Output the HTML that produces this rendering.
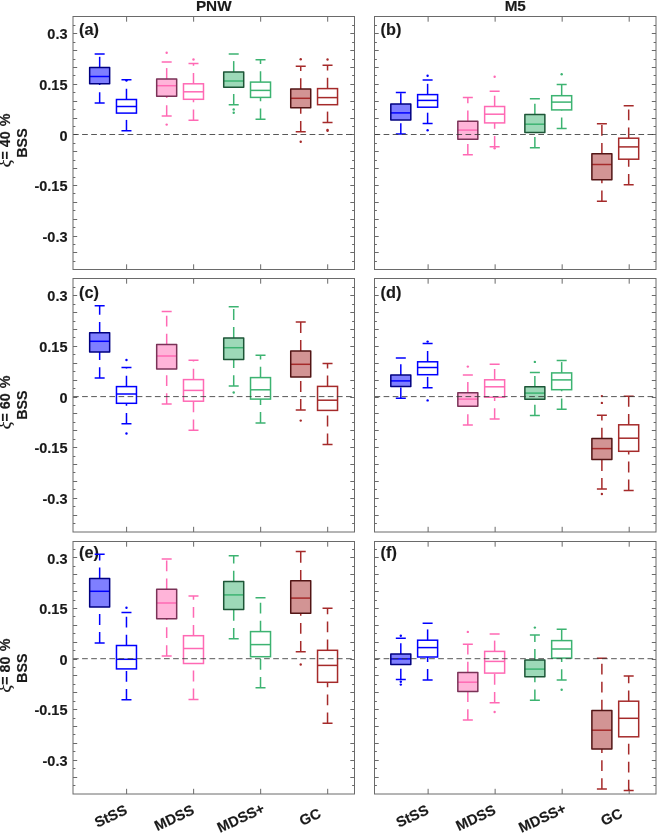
<!DOCTYPE html>
<html lang="en"><head><meta charset="utf-8"><title>BSS box plots</title>
<style>html,body{margin:0;padding:0;background:#fff}svg{display:block}</style></head>
<body>
<svg width="659" height="833" viewBox="0 0 659 833" font-family="'Liberation Sans', sans-serif" font-weight="bold" fill="#1a1a1a">
<style>text{stroke:#1a1a1a;stroke-width:.15px;stroke-linejoin:round}</style>
<rect width="659" height="833" fill="#fff"/>
<g>
<path d="M73 261.5h2.4M354.5 261.5h-2.4M73 252.5h4.2M354.5 252.5h-4.2M73 244.5h2.4M354.5 244.5h-2.4M73 236.5h4.2M354.5 236.5h-4.2M73 227.5h2.4M354.5 227.5h-2.4M73 219.5h4.2M354.5 219.5h-4.2M73 210.5h2.4M354.5 210.5h-2.4M73 202.5h4.2M354.5 202.5h-4.2M73 193.5h2.4M354.5 193.5h-2.4M73 185.5h4.2M354.5 185.5h-4.2M73 177.5h2.4M354.5 177.5h-2.4M73 168.5h4.2M354.5 168.5h-4.2M73 160.5h2.4M354.5 160.5h-2.4M73 151.5h4.2M354.5 151.5h-4.2M73 143.5h2.4M354.5 143.5h-2.4M73 134.5h4.2M354.5 134.5h-4.2M73 126.5h2.4M354.5 126.5h-2.4M73 118.5h4.2M354.5 118.5h-4.2M73 109.5h2.4M354.5 109.5h-2.4M73 101.5h4.2M354.5 101.5h-4.2M73 92.5h2.4M354.5 92.5h-2.4M73 84.5h4.2M354.5 84.5h-4.2M73 75.5h2.4M354.5 75.5h-2.4M73 67.5h4.2M354.5 67.5h-4.2M73 59.5h2.4M354.5 59.5h-2.4M73 50.5h4.2M354.5 50.5h-4.2M73 42.5h2.4M354.5 42.5h-2.4M73 33.5h4.2M354.5 33.5h-4.2M73 25.5h2.4M354.5 25.5h-2.4M126.62 16.83V21.7M126.62 269.5v-5.2M193.64 16.83V21.7M193.64 269.5v-5.2M260.67 16.83V21.7M260.67 269.5v-5.2M327.69 16.83V21.7M327.69 269.5v-5.2" stroke="#6a6a6a" stroke-width="1" fill="none"/>
<text x="79.1" y="34.5" font-size="16.3">(a)</text>
<g stroke="#0000FF" stroke-width="1.5" fill="none"><path d="M99.66 67.6V54" stroke-dasharray="10.8 7.2"/><path d="M99.66 103.1V83.8" stroke-dasharray="10.8 7.2"/><path d="M94.66 54h10.0M94.66 103.1h10.0"/><path d="M89.66 76.5h20.0"/><rect x="89.66" y="67.6" width="20.0" height="16.2" fill="#0000FF" fill-opacity="0.5" stroke="#000080" stroke-linejoin="round"/></g>
<g stroke="#0000FF" stroke-width="1.5" fill="none"><path d="M126.47 99.5V79.7" stroke-dasharray="10.8 7.2"/><path d="M126.47 130.7V113.1" stroke-dasharray="10.8 7.2"/><path d="M121.47 79.7h10.0M121.47 130.7h10.0"/><rect x="116.47" y="99.5" width="20.0" height="13.6"/><path d="M116.47 106.5h20.0"/></g><circle cx="126.47" cy="80.3" r="1.2" fill="#0000FF"/>
<g stroke="#FF69B4" stroke-width="1.5" fill="none"><path d="M166.68 78.9V61.9" stroke-dasharray="10.8 7.2"/><path d="M166.68 116.1V96.3" stroke-dasharray="10.8 7.2"/><path d="M161.68 61.9h10.0M161.68 116.1h10.0"/><path d="M156.68 85.7h20.0"/><rect x="156.68" y="78.9" width="20.0" height="17.4" fill="#FF69B4" fill-opacity="0.5" stroke="#7A3257" stroke-linejoin="round"/></g><circle cx="166.68" cy="52.7" r="1.2" fill="#FF69B4"/><circle cx="166.68" cy="124.6" r="1.2" fill="#FF69B4"/>
<g stroke="#FF69B4" stroke-width="1.5" fill="none"><path d="M193.49 83.8V63.4" stroke-dasharray="10.8 7.2"/><path d="M193.49 120.3V99.3" stroke-dasharray="10.8 7.2"/><path d="M188.49 63.4h10.0M188.49 120.3h10.0"/><rect x="183.49" y="83.8" width="20.0" height="15.5"/><path d="M183.49 91.8h20.0"/></g><circle cx="193.49" cy="59.5" r="1.2" fill="#FF69B4"/>
<g stroke="#3CB371" stroke-width="1.5" fill="none"><path d="M233.71 71.9V54" stroke-dasharray="10.8 7.2"/><path d="M233.71 104.8V87.2" stroke-dasharray="10.8 7.2"/><path d="M228.71 54h10.0M228.71 104.8h10.0"/><path d="M223.71 81h20.0"/><rect x="223.71" y="71.9" width="20.0" height="15.3" fill="#3CB371" fill-opacity="0.5" stroke="#1D5637" stroke-linejoin="round"/></g><circle cx="233.71" cy="109.5" r="1.2" fill="#3CB371"/><circle cx="233.71" cy="112.7" r="1.2" fill="#3CB371"/>
<g stroke="#3CB371" stroke-width="1.5" fill="none"><path d="M260.52 82.1V59.8" stroke-dasharray="10.8 7.2"/><path d="M260.52 119.2V97.4" stroke-dasharray="10.8 7.2"/><path d="M255.52 59.8h10.0M255.52 119.2h10.0"/><rect x="250.52" y="82.1" width="20.0" height="15.3"/><path d="M250.52 90.4h20.0"/></g>
<g stroke="#A52A2A" stroke-width="1.5" fill="none"><path d="M300.73 89V66.3" stroke-dasharray="10.8 7.2"/><path d="M300.73 131.8V107.8" stroke-dasharray="10.8 7.2"/><path d="M295.73 66.3h10.0M295.73 131.8h10.0"/><path d="M290.73 98.3h20.0"/><rect x="290.73" y="89" width="20.0" height="18.8" fill="#A52A2A" fill-opacity="0.5" stroke="#521515" stroke-linejoin="round"/></g><circle cx="300.73" cy="59.3" r="1.2" fill="#A52A2A"/><circle cx="300.73" cy="141.8" r="1.2" fill="#A52A2A"/>
<g stroke="#A52A2A" stroke-width="1.5" fill="none"><path d="M327.54 88.6V65.3" stroke-dasharray="10.8 7.2"/><path d="M327.54 122.4V104.7" stroke-dasharray="10.8 7.2"/><path d="M322.54 65.3h10.0M322.54 122.4h10.0"/><rect x="317.54" y="88.6" width="20.0" height="16.1"/><path d="M317.54 97.6h20.0"/></g><circle cx="327.54" cy="59.5" r="1.2" fill="#A52A2A"/><circle cx="327.54" cy="130" r="1.2" fill="#A52A2A"/><circle cx="327.54" cy="130.8" r="1.2" fill="#A52A2A"/>
<line x1="73" y1="134.5" x2="354.5" y2="134.5" stroke="#3a3a3a" stroke-width="0.85" stroke-dasharray="5.7 3.4"/>
<rect x="73" y="16.5" width="281.5" height="253" fill="none" stroke="#6a6a6a" stroke-width="1"/>
<text x="67.5" y="39.3" font-size="14.5" text-anchor="end">0.3</text>
<text x="67.5" y="89.9" font-size="14.5" text-anchor="end">0.15</text>
<text x="67.5" y="140.5" font-size="14.5" text-anchor="end">0</text>
<text x="67.5" y="191.1" font-size="14.5" text-anchor="end">-0.15</text>
<text x="67.5" y="241.7" font-size="14.5" text-anchor="end">-0.3</text>
</g>
<g>
<path d="M374.5 261.5h2.4M656 261.5h-2.4M374.5 252.5h4.2M656 252.5h-4.2M374.5 244.5h2.4M656 244.5h-2.4M374.5 236.5h4.2M656 236.5h-4.2M374.5 227.5h2.4M656 227.5h-2.4M374.5 219.5h4.2M656 219.5h-4.2M374.5 210.5h2.4M656 210.5h-2.4M374.5 202.5h4.2M656 202.5h-4.2M374.5 193.5h2.4M656 193.5h-2.4M374.5 185.5h4.2M656 185.5h-4.2M374.5 177.5h2.4M656 177.5h-2.4M374.5 168.5h4.2M656 168.5h-4.2M374.5 160.5h2.4M656 160.5h-2.4M374.5 151.5h4.2M656 151.5h-4.2M374.5 143.5h2.4M656 143.5h-2.4M374.5 134.5h4.2M656 134.5h-4.2M374.5 126.5h2.4M656 126.5h-2.4M374.5 118.5h4.2M656 118.5h-4.2M374.5 109.5h2.4M656 109.5h-2.4M374.5 101.5h4.2M656 101.5h-4.2M374.5 92.5h2.4M656 92.5h-2.4M374.5 84.5h4.2M656 84.5h-4.2M374.5 75.5h2.4M656 75.5h-2.4M374.5 67.5h4.2M656 67.5h-4.2M374.5 59.5h2.4M656 59.5h-2.4M374.5 50.5h4.2M656 50.5h-4.2M374.5 42.5h2.4M656 42.5h-2.4M374.5 33.5h4.2M656 33.5h-4.2M374.5 25.5h2.4M656 25.5h-2.4M428.12 16.83V21.7M428.12 269.5v-5.2M495.14 16.83V21.7M495.14 269.5v-5.2M562.17 16.83V21.7M562.17 269.5v-5.2M629.19 16.83V21.7M629.19 269.5v-5.2" stroke="#6a6a6a" stroke-width="1" fill="none"/>
<text x="380.6" y="34.5" font-size="16.3">(b)</text>
<g stroke="#0000FF" stroke-width="1.5" fill="none"><path d="M400.81 104V92.5" stroke-dasharray="10.8 7.2"/><path d="M400.81 134.1V119.9" stroke-dasharray="10.8 7.2"/><path d="M395.81 92.5h10.0M395.81 134.1h10.0"/><path d="M390.81 112.9h20.0"/><rect x="390.81" y="104" width="20.0" height="15.9" fill="#0000FF" fill-opacity="0.5" stroke="#000080" stroke-linejoin="round"/></g>
<g stroke="#0000FF" stroke-width="1.5" fill="none"><path d="M427.62 94.6V80" stroke-dasharray="10.8 7.2"/><path d="M427.62 123.5V107.2" stroke-dasharray="10.8 7.2"/><path d="M422.62 80h10.0M422.62 123.5h10.0"/><rect x="417.62" y="94.6" width="20.0" height="12.6"/><path d="M417.62 100.4h20.0"/></g><circle cx="427.62" cy="75.7" r="1.2" fill="#0000FF"/><circle cx="427.62" cy="130.3" r="1.2" fill="#0000FF"/>
<g stroke="#FF69B4" stroke-width="1.5" fill="none"><path d="M467.83 121.2V97.6" stroke-dasharray="10.8 7.2"/><path d="M467.83 154.8V139.2" stroke-dasharray="10.8 7.2"/><path d="M462.83 97.6h10.0M462.83 154.8h10.0"/><path d="M457.83 130.1h20.0"/><rect x="457.83" y="121.2" width="20.0" height="18" fill="#FF69B4" fill-opacity="0.5" stroke="#7A3257" stroke-linejoin="round"/></g>
<g stroke="#FF69B4" stroke-width="1.5" fill="none"><path d="M494.64 106.5V91.2" stroke-dasharray="10.8 7.2"/><path d="M494.64 146.7V122.9" stroke-dasharray="10.8 7.2"/><path d="M489.64 91.2h10.0M489.64 146.7h10.0"/><rect x="484.64" y="106.5" width="20.0" height="16.4"/><path d="M484.64 114.2h20.0"/></g><circle cx="494.64" cy="76.8" r="1.2" fill="#FF69B4"/><circle cx="494.64" cy="148.2" r="1.2" fill="#FF69B4"/>
<g stroke="#3CB371" stroke-width="1.5" fill="none"><path d="M534.86 114.6V98.7" stroke-dasharray="10.8 7.2"/><path d="M534.86 147.7V132.4" stroke-dasharray="10.8 7.2"/><path d="M529.86 98.7h10.0M529.86 147.7h10.0"/><path d="M524.86 124.2h20.0"/><rect x="524.86" y="114.6" width="20.0" height="17.8" fill="#3CB371" fill-opacity="0.5" stroke="#1D5637" stroke-linejoin="round"/></g>
<g stroke="#3CB371" stroke-width="1.5" fill="none"><path d="M561.67 95.7V84.4" stroke-dasharray="10.8 7.2"/><path d="M561.67 128.4V109.9" stroke-dasharray="10.8 7.2"/><path d="M556.67 84.4h10.0M556.67 128.4h10.0"/><rect x="551.67" y="95.7" width="20.0" height="14.2"/><path d="M551.67 102.1h20.0"/></g><circle cx="561.67" cy="74.2" r="1.2" fill="#3CB371"/>
<g stroke="#A52A2A" stroke-width="1.5" fill="none"><path d="M601.88 153.7V123.7" stroke-dasharray="10.8 7.2"/><path d="M601.88 201.3V179.8" stroke-dasharray="10.8 7.2"/><path d="M596.88 123.7h10.0M596.88 201.3h10.0"/><path d="M591.88 164.5h20.0"/><rect x="591.88" y="153.7" width="20.0" height="26.1" fill="#A52A2A" fill-opacity="0.5" stroke="#521515" stroke-linejoin="round"/></g>
<g stroke="#A52A2A" stroke-width="1.5" fill="none"><path d="M628.69 138.2V105.7" stroke-dasharray="10.8 7.2"/><path d="M628.69 184.7V159.2" stroke-dasharray="10.8 7.2"/><path d="M623.69 105.7h10.0M623.69 184.7h10.0"/><rect x="618.69" y="138.2" width="20.0" height="21"/><path d="M618.69 146.9h20.0"/></g>
<line x1="374.5" y1="134.5" x2="656" y2="134.5" stroke="#3a3a3a" stroke-width="0.85" stroke-dasharray="5.7 3.4"/>
<rect x="374.5" y="16.5" width="281.5" height="253" fill="none" stroke="#6a6a6a" stroke-width="1"/>
</g>
<g>
<path d="M73 523.5h2.4M354.5 523.5h-2.4M73 515.5h4.2M354.5 515.5h-4.2M73 506.5h2.4M354.5 506.5h-2.4M73 498.5h4.2M354.5 498.5h-4.2M73 489.5h2.4M354.5 489.5h-2.4M73 481.5h4.2M354.5 481.5h-4.2M73 472.5h2.4M354.5 472.5h-2.4M73 464.5h4.2M354.5 464.5h-4.2M73 456.5h2.4M354.5 456.5h-2.4M73 447.5h4.2M354.5 447.5h-4.2M73 439.5h2.4M354.5 439.5h-2.4M73 430.5h4.2M354.5 430.5h-4.2M73 422.5h2.4M354.5 422.5h-2.4M73 413.5h4.2M354.5 413.5h-4.2M73 405.5h2.4M354.5 405.5h-2.4M73 397.5h4.2M354.5 397.5h-4.2M73 388.5h2.4M354.5 388.5h-2.4M73 380.5h4.2M354.5 380.5h-4.2M73 371.5h2.4M354.5 371.5h-2.4M73 363.5h4.2M354.5 363.5h-4.2M73 354.5h2.4M354.5 354.5h-2.4M73 346.5h4.2M354.5 346.5h-4.2M73 337.5h2.4M354.5 337.5h-2.4M73 329.5h4.2M354.5 329.5h-4.2M73 321.5h2.4M354.5 321.5h-2.4M73 312.5h4.2M354.5 312.5h-4.2M73 304.5h2.4M354.5 304.5h-2.4M73 295.5h4.2M354.5 295.5h-4.2M73 287.5h2.4M354.5 287.5h-2.4M126.62 278.93V283.7M126.62 532v-5.2M193.64 278.93V283.7M193.64 532v-5.2M260.67 278.93V283.7M260.67 532v-5.2M327.69 278.93V283.7M327.69 532v-5.2" stroke="#6a6a6a" stroke-width="1" fill="none"/>
<text x="79.1" y="298.4" font-size="16.3">(c)</text>
<g stroke="#0000FF" stroke-width="1.5" fill="none"><path d="M99.66 332.8V305.8" stroke-dasharray="10.8 7.2"/><path d="M99.66 378.1V352.1" stroke-dasharray="10.8 7.2"/><path d="M94.66 305.8h10.0M94.66 378.1h10.0"/><path d="M89.66 341.3h20.0"/><rect x="89.66" y="332.8" width="20.0" height="19.3" fill="#0000FF" fill-opacity="0.5" stroke="#000080" stroke-linejoin="round"/></g>
<g stroke="#0000FF" stroke-width="1.5" fill="none"><path d="M126.47 386.6V367.4" stroke-dasharray="10.8 7.2"/><path d="M126.47 423.7V403.3" stroke-dasharray="10.8 7.2"/><path d="M121.47 367.4h10.0M121.47 423.7h10.0"/><rect x="116.47" y="386.6" width="20.0" height="16.7"/><path d="M116.47 394h20.0"/></g><circle cx="126.47" cy="360" r="1.2" fill="#0000FF"/><circle cx="126.47" cy="433.5" r="1.2" fill="#0000FF"/>
<g stroke="#FF69B4" stroke-width="1.5" fill="none"><path d="M166.68 344.5V311.6" stroke-dasharray="10.8 7.2"/><path d="M166.68 404V368.9" stroke-dasharray="10.8 7.2"/><path d="M161.68 311.6h10.0M161.68 404h10.0"/><path d="M156.68 356h20.0"/><rect x="156.68" y="344.5" width="20.0" height="24.4" fill="#FF69B4" fill-opacity="0.5" stroke="#7A3257" stroke-linejoin="round"/></g>
<g stroke="#FF69B4" stroke-width="1.5" fill="none"><path d="M193.49 379.6V360.2" stroke-dasharray="10.8 7.2"/><path d="M193.49 430.3V401.2" stroke-dasharray="10.8 7.2"/><path d="M188.49 360.2h10.0M188.49 430.3h10.0"/><rect x="183.49" y="379.6" width="20.0" height="21.6"/><path d="M183.49 390.4h20.0"/></g>
<g stroke="#3CB371" stroke-width="1.5" fill="none"><path d="M233.71 337.9V306.7" stroke-dasharray="10.8 7.2"/><path d="M233.71 386.1V359.4" stroke-dasharray="10.8 7.2"/><path d="M228.71 306.7h10.0M228.71 386.1h10.0"/><path d="M223.71 347.7h20.0"/><rect x="223.71" y="337.9" width="20.0" height="21.5" fill="#3CB371" fill-opacity="0.5" stroke="#1D5637" stroke-linejoin="round"/></g><circle cx="233.71" cy="392.5" r="1.2" fill="#3CB371"/>
<g stroke="#3CB371" stroke-width="1.5" fill="none"><path d="M260.52 377.6V355.3" stroke-dasharray="10.8 7.2"/><path d="M260.52 422.9V399.1" stroke-dasharray="10.8 7.2"/><path d="M255.52 355.3h10.0M255.52 422.9h10.0"/><rect x="250.52" y="377.6" width="20.0" height="21.5"/><path d="M250.52 389.8h20.0"/></g>
<g stroke="#A52A2A" stroke-width="1.5" fill="none"><path d="M300.73 350.9V322" stroke-dasharray="10.8 7.2"/><path d="M300.73 409.9V377" stroke-dasharray="10.8 7.2"/><path d="M295.73 322h10.0M295.73 409.9h10.0"/><path d="M290.73 364.3h20.0"/><rect x="290.73" y="350.9" width="20.0" height="26.1" fill="#A52A2A" fill-opacity="0.5" stroke="#521515" stroke-linejoin="round"/></g><circle cx="300.73" cy="420.6" r="1.2" fill="#A52A2A"/>
<g stroke="#A52A2A" stroke-width="1.5" fill="none"><path d="M327.54 386.4V363.4" stroke-dasharray="10.8 7.2"/><path d="M327.54 444.4V410.4" stroke-dasharray="10.8 7.2"/><path d="M322.54 363.4h10.0M322.54 444.4h10.0"/><rect x="317.54" y="386.4" width="20.0" height="24"/><path d="M317.54 400.2h20.0"/></g>
<line x1="73" y1="396.6" x2="354.5" y2="396.6" stroke="#3a3a3a" stroke-width="0.85" stroke-dasharray="5.7 3.4"/>
<rect x="73" y="278.5" width="281.5" height="253.5" fill="none" stroke="#6a6a6a" stroke-width="1"/>
<text x="67.5" y="301.4" font-size="14.5" text-anchor="end">0.3</text>
<text x="67.5" y="352" font-size="14.5" text-anchor="end">0.15</text>
<text x="67.5" y="402.6" font-size="14.5" text-anchor="end">0</text>
<text x="67.5" y="453.2" font-size="14.5" text-anchor="end">-0.15</text>
<text x="67.5" y="503.8" font-size="14.5" text-anchor="end">-0.3</text>
</g>
<g>
<path d="M374.5 523.5h2.4M656 523.5h-2.4M374.5 515.5h4.2M656 515.5h-4.2M374.5 506.5h2.4M656 506.5h-2.4M374.5 498.5h4.2M656 498.5h-4.2M374.5 489.5h2.4M656 489.5h-2.4M374.5 481.5h4.2M656 481.5h-4.2M374.5 472.5h2.4M656 472.5h-2.4M374.5 464.5h4.2M656 464.5h-4.2M374.5 456.5h2.4M656 456.5h-2.4M374.5 447.5h4.2M656 447.5h-4.2M374.5 439.5h2.4M656 439.5h-2.4M374.5 430.5h4.2M656 430.5h-4.2M374.5 422.5h2.4M656 422.5h-2.4M374.5 413.5h4.2M656 413.5h-4.2M374.5 405.5h2.4M656 405.5h-2.4M374.5 397.5h4.2M656 397.5h-4.2M374.5 388.5h2.4M656 388.5h-2.4M374.5 380.5h4.2M656 380.5h-4.2M374.5 371.5h2.4M656 371.5h-2.4M374.5 363.5h4.2M656 363.5h-4.2M374.5 354.5h2.4M656 354.5h-2.4M374.5 346.5h4.2M656 346.5h-4.2M374.5 337.5h2.4M656 337.5h-2.4M374.5 329.5h4.2M656 329.5h-4.2M374.5 321.5h2.4M656 321.5h-2.4M374.5 312.5h4.2M656 312.5h-4.2M374.5 304.5h2.4M656 304.5h-2.4M374.5 295.5h4.2M656 295.5h-4.2M374.5 287.5h2.4M656 287.5h-2.4M428.12 278.93V283.7M428.12 532v-5.2M495.14 278.93V283.7M495.14 532v-5.2M562.17 278.93V283.7M562.17 532v-5.2M629.19 278.93V283.7M629.19 532v-5.2" stroke="#6a6a6a" stroke-width="1" fill="none"/>
<text x="380.6" y="298.4" font-size="16.3">(d)</text>
<g stroke="#0000FF" stroke-width="1.5" fill="none"><path d="M400.81 375.1V357.9" stroke-dasharray="10.8 7.2"/><path d="M400.81 398.3V386.6" stroke-dasharray="10.8 7.2"/><path d="M395.81 357.9h10.0M395.81 398.3h10.0"/><path d="M390.81 380.9h20.0"/><rect x="390.81" y="375.1" width="20.0" height="11.5" fill="#0000FF" fill-opacity="0.5" stroke="#000080" stroke-linejoin="round"/></g>
<g stroke="#0000FF" stroke-width="1.5" fill="none"><path d="M427.62 361.8V343.5" stroke-dasharray="10.8 7.2"/><path d="M427.62 387.7V374.7" stroke-dasharray="10.8 7.2"/><path d="M422.62 343.5h10.0M422.62 387.7h10.0"/><rect x="417.62" y="361.8" width="20.0" height="12.9"/><path d="M417.62 367.5h20.0"/></g><circle cx="427.62" cy="341.6" r="1.2" fill="#0000FF"/><circle cx="427.62" cy="400.4" r="1.2" fill="#0000FF"/>
<g stroke="#FF69B4" stroke-width="1.5" fill="none"><path d="M467.83 392.8V375.1" stroke-dasharray="10.8 7.2"/><path d="M467.83 425.1V406.2" stroke-dasharray="10.8 7.2"/><path d="M462.83 375.1h10.0M462.83 425.1h10.0"/><path d="M457.83 399.1h20.0"/><rect x="457.83" y="392.8" width="20.0" height="13.4" fill="#FF69B4" fill-opacity="0.5" stroke="#7A3257" stroke-linejoin="round"/></g><circle cx="467.83" cy="366.6" r="1.2" fill="#FF69B4"/>
<g stroke="#FF69B4" stroke-width="1.5" fill="none"><path d="M494.64 379.8V364.3" stroke-dasharray="10.8 7.2"/><path d="M494.64 419.1V397.2" stroke-dasharray="10.8 7.2"/><path d="M489.64 364.3h10.0M489.64 419.1h10.0"/><rect x="484.64" y="379.8" width="20.0" height="17.4"/><path d="M484.64 386.8h20.0"/></g>
<g stroke="#3CB371" stroke-width="1.5" fill="none"><path d="M534.86 386.7V372.5" stroke-dasharray="10.8 7.2"/><path d="M534.86 415.6V399.3" stroke-dasharray="10.8 7.2"/><path d="M529.86 372.5h10.0M529.86 415.6h10.0"/><path d="M524.86 393.1h20.0"/><rect x="524.86" y="386.7" width="20.0" height="12.6" fill="#3CB371" fill-opacity="0.5" stroke="#1D5637" stroke-linejoin="round"/></g><circle cx="534.86" cy="361.9" r="1.2" fill="#3CB371"/>
<g stroke="#3CB371" stroke-width="1.5" fill="none"><path d="M561.67 372.9V360.4" stroke-dasharray="10.8 7.2"/><path d="M561.67 409.3V389.7" stroke-dasharray="10.8 7.2"/><path d="M556.67 360.4h10.0M556.67 409.3h10.0"/><rect x="551.67" y="372.9" width="20.0" height="16.8"/><path d="M551.67 379.9h20.0"/></g>
<g stroke="#A52A2A" stroke-width="1.5" fill="none"><path d="M601.88 438.6V415.2" stroke-dasharray="10.8 7.2"/><path d="M601.88 488.9V459.4" stroke-dasharray="10.8 7.2"/><path d="M596.88 415.2h10.0M596.88 488.9h10.0"/><path d="M591.88 448.6h20.0"/><rect x="591.88" y="438.6" width="20.0" height="20.8" fill="#A52A2A" fill-opacity="0.5" stroke="#521515" stroke-linejoin="round"/></g><circle cx="601.88" cy="396.1" r="1.2" fill="#A52A2A"/><circle cx="601.88" cy="402.9" r="1.2" fill="#A52A2A"/><circle cx="601.88" cy="494" r="1.2" fill="#A52A2A"/>
<g stroke="#A52A2A" stroke-width="1.5" fill="none"><path d="M628.69 424.8V396.3" stroke-dasharray="10.8 7.2"/><path d="M628.69 490.4V451.3" stroke-dasharray="10.8 7.2"/><path d="M623.69 396.3h10.0M623.69 490.4h10.0"/><rect x="618.69" y="424.8" width="20.0" height="26.5"/><path d="M618.69 438.2h20.0"/></g>
<line x1="374.5" y1="396.6" x2="656" y2="396.6" stroke="#3a3a3a" stroke-width="0.85" stroke-dasharray="5.7 3.4"/>
<rect x="374.5" y="278.5" width="281.5" height="253.5" fill="none" stroke="#6a6a6a" stroke-width="1"/>
</g>
<g>
<path d="M73 785.5h2.4M354.5 785.5h-2.4M73 777.5h4.2M354.5 777.5h-4.2M73 768.5h2.4M354.5 768.5h-2.4M73 760.5h4.2M354.5 760.5h-4.2M73 751.5h2.4M354.5 751.5h-2.4M73 743.5h4.2M354.5 743.5h-4.2M73 734.5h2.4M354.5 734.5h-2.4M73 726.5h4.2M354.5 726.5h-4.2M73 718.5h2.4M354.5 718.5h-2.4M73 709.5h4.2M354.5 709.5h-4.2M73 701.5h2.4M354.5 701.5h-2.4M73 692.5h4.2M354.5 692.5h-4.2M73 684.5h2.4M354.5 684.5h-2.4M73 675.5h4.2M354.5 675.5h-4.2M73 667.5h2.4M354.5 667.5h-2.4M73 659.5h4.2M354.5 659.5h-4.2M73 650.5h2.4M354.5 650.5h-2.4M73 642.5h4.2M354.5 642.5h-4.2M73 633.5h2.4M354.5 633.5h-2.4M73 625.5h4.2M354.5 625.5h-4.2M73 616.5h2.4M354.5 616.5h-2.4M73 608.5h4.2M354.5 608.5h-4.2M73 600.5h2.4M354.5 600.5h-2.4M73 591.5h4.2M354.5 591.5h-4.2M73 583.5h2.4M354.5 583.5h-2.4M73 574.5h4.2M354.5 574.5h-4.2M73 566.5h2.4M354.5 566.5h-2.4M73 557.5h4.2M354.5 557.5h-4.2M73 549.5h2.4M354.5 549.5h-2.4M126.62 541.03V546.7M126.62 794v-5.2M193.64 541.03V546.7M193.64 794v-5.2M260.67 541.03V546.7M260.67 794v-5.2M327.69 541.03V546.7M327.69 794v-5.2" stroke="#6a6a6a" stroke-width="1" fill="none"/>
<text x="79.1" y="557.5" font-size="16.3">(e)</text>
<g stroke="#0000FF" stroke-width="1.5" fill="none"><path d="M99.66 578.4V554.3" stroke-dasharray="10.8 7.2"/><path d="M99.66 642.9V607" stroke-dasharray="10.8 7.2"/><path d="M94.66 554.3h10.0M94.66 642.9h10.0"/><path d="M89.66 591.3h20.0"/><rect x="89.66" y="578.4" width="20.0" height="28.6" fill="#0000FF" fill-opacity="0.5" stroke="#000080" stroke-linejoin="round"/></g>
<g stroke="#0000FF" stroke-width="1.5" fill="none"><path d="M126.47 645.5V612.6" stroke-dasharray="10.8 7.2"/><path d="M126.47 699.7V668.9" stroke-dasharray="10.8 7.2"/><path d="M121.47 612.6h10.0M121.47 699.7h10.0"/><rect x="116.47" y="645.5" width="20.0" height="23.4"/><path d="M116.47 659.3h20.0"/></g><circle cx="126.47" cy="607.7" r="1.2" fill="#0000FF"/>
<g stroke="#FF69B4" stroke-width="1.5" fill="none"><path d="M166.68 589.2V559" stroke-dasharray="10.8 7.2"/><path d="M166.68 656.1V618.7" stroke-dasharray="10.8 7.2"/><path d="M161.68 559h10.0M161.68 656.1h10.0"/><path d="M156.68 603h20.0"/><rect x="156.68" y="589.2" width="20.0" height="29.5" fill="#FF69B4" fill-opacity="0.5" stroke="#7A3257" stroke-linejoin="round"/></g>
<g stroke="#FF69B4" stroke-width="1.5" fill="none"><path d="M193.49 635.7V596" stroke-dasharray="10.8 7.2"/><path d="M193.49 699.4V663.5" stroke-dasharray="10.8 7.2"/><path d="M188.49 596h10.0M188.49 699.4h10.0"/><rect x="183.49" y="635.7" width="20.0" height="27.8"/><path d="M183.49 648.5h20.0"/></g>
<g stroke="#3CB371" stroke-width="1.5" fill="none"><path d="M233.71 581.5V555.7" stroke-dasharray="10.8 7.2"/><path d="M233.71 638.7V609.5" stroke-dasharray="10.8 7.2"/><path d="M228.71 555.7h10.0M228.71 638.7h10.0"/><path d="M223.71 594.9h20.0"/><rect x="223.71" y="581.5" width="20.0" height="28" fill="#3CB371" fill-opacity="0.5" stroke="#1D5637" stroke-linejoin="round"/></g>
<g stroke="#3CB371" stroke-width="1.5" fill="none"><path d="M260.52 631.6V597.7" stroke-dasharray="10.8 7.2"/><path d="M260.52 687.7V656.7" stroke-dasharray="10.8 7.2"/><path d="M255.52 597.7h10.0M255.52 687.7h10.0"/><rect x="250.52" y="631.6" width="20.0" height="25.1"/><path d="M250.52 644.6h20.0"/></g>
<g stroke="#A52A2A" stroke-width="1.5" fill="none"><path d="M300.73 580.8V551.6" stroke-dasharray="10.8 7.2"/><path d="M300.73 651.7V613.2" stroke-dasharray="10.8 7.2"/><path d="M295.73 551.6h10.0M295.73 651.7h10.0"/><path d="M290.73 598.1h20.0"/><rect x="290.73" y="580.8" width="20.0" height="32.4" fill="#A52A2A" fill-opacity="0.5" stroke="#521515" stroke-linejoin="round"/></g><circle cx="300.73" cy="664.5" r="1.2" fill="#A52A2A"/>
<g stroke="#A52A2A" stroke-width="1.5" fill="none"><path d="M327.54 650.3V608.2" stroke-dasharray="10.8 7.2"/><path d="M327.54 723.3V682.3" stroke-dasharray="10.8 7.2"/><path d="M322.54 608.2h10.0M322.54 723.3h10.0"/><rect x="317.54" y="650.3" width="20.0" height="32"/><path d="M317.54 665.4h20.0"/></g>
<line x1="73" y1="658.7" x2="354.5" y2="658.7" stroke="#3a3a3a" stroke-width="0.85" stroke-dasharray="5.7 3.4"/>
<rect x="73" y="541.5" width="281.5" height="252.5" fill="none" stroke="#6a6a6a" stroke-width="1"/>
<text x="67.5" y="563.5" font-size="14.5" text-anchor="end">0.3</text>
<text x="67.5" y="614.1" font-size="14.5" text-anchor="end">0.15</text>
<text x="67.5" y="664.7" font-size="14.5" text-anchor="end">0</text>
<text x="67.5" y="715.3" font-size="14.5" text-anchor="end">-0.15</text>
<text x="67.5" y="765.9" font-size="14.5" text-anchor="end">-0.3</text>
</g>
<g>
<path d="M374.5 785.5h2.4M656 785.5h-2.4M374.5 777.5h4.2M656 777.5h-4.2M374.5 768.5h2.4M656 768.5h-2.4M374.5 760.5h4.2M656 760.5h-4.2M374.5 751.5h2.4M656 751.5h-2.4M374.5 743.5h4.2M656 743.5h-4.2M374.5 734.5h2.4M656 734.5h-2.4M374.5 726.5h4.2M656 726.5h-4.2M374.5 718.5h2.4M656 718.5h-2.4M374.5 709.5h4.2M656 709.5h-4.2M374.5 701.5h2.4M656 701.5h-2.4M374.5 692.5h4.2M656 692.5h-4.2M374.5 684.5h2.4M656 684.5h-2.4M374.5 675.5h4.2M656 675.5h-4.2M374.5 667.5h2.4M656 667.5h-2.4M374.5 659.5h4.2M656 659.5h-4.2M374.5 650.5h2.4M656 650.5h-2.4M374.5 642.5h4.2M656 642.5h-4.2M374.5 633.5h2.4M656 633.5h-2.4M374.5 625.5h4.2M656 625.5h-4.2M374.5 616.5h2.4M656 616.5h-2.4M374.5 608.5h4.2M656 608.5h-4.2M374.5 600.5h2.4M656 600.5h-2.4M374.5 591.5h4.2M656 591.5h-4.2M374.5 583.5h2.4M656 583.5h-2.4M374.5 574.5h4.2M656 574.5h-4.2M374.5 566.5h2.4M656 566.5h-2.4M374.5 557.5h4.2M656 557.5h-4.2M374.5 549.5h2.4M656 549.5h-2.4M428.12 541.03V546.7M428.12 794v-5.2M495.14 541.03V546.7M495.14 794v-5.2M562.17 541.03V546.7M562.17 794v-5.2M629.19 541.03V546.7M629.19 794v-5.2" stroke="#6a6a6a" stroke-width="1" fill="none"/>
<text x="380.6" y="557.5" font-size="16.3">(f)</text>
<g stroke="#0000FF" stroke-width="1.5" fill="none"><path d="M400.81 654V638.3" stroke-dasharray="10.8 7.2"/><path d="M400.81 679.5V664.4" stroke-dasharray="10.8 7.2"/><path d="M395.81 638.3h10.0M395.81 679.5h10.0"/><path d="M390.81 658.9h20.0"/><rect x="390.81" y="654" width="20.0" height="10.4" fill="#0000FF" fill-opacity="0.5" stroke="#000080" stroke-linejoin="round"/></g><circle cx="400.81" cy="635.7" r="1.2" fill="#0000FF"/><circle cx="400.81" cy="681.8" r="1.2" fill="#0000FF"/><circle cx="400.81" cy="684.6" r="1.2" fill="#0000FF"/>
<g stroke="#0000FF" stroke-width="1.5" fill="none"><path d="M427.62 640.2V623.2" stroke-dasharray="10.8 7.2"/><path d="M427.62 679.9V657" stroke-dasharray="10.8 7.2"/><path d="M422.62 623.2h10.0M422.62 679.9h10.0"/><rect x="417.62" y="640.2" width="20.0" height="16.8"/><path d="M417.62 647.6h20.0"/></g>
<g stroke="#FF69B4" stroke-width="1.5" fill="none"><path d="M467.83 672.5V644.2" stroke-dasharray="10.8 7.2"/><path d="M467.83 720V691.4" stroke-dasharray="10.8 7.2"/><path d="M462.83 644.2h10.0M462.83 720h10.0"/><path d="M457.83 682.2h20.0"/><rect x="457.83" y="672.5" width="20.0" height="18.9" fill="#FF69B4" fill-opacity="0.5" stroke="#7A3257" stroke-linejoin="round"/></g><circle cx="467.83" cy="631.9" r="1.2" fill="#FF69B4"/>
<g stroke="#FF69B4" stroke-width="1.5" fill="none"><path d="M494.64 651.4V634" stroke-dasharray="10.8 7.2"/><path d="M494.64 702.8V673.1" stroke-dasharray="10.8 7.2"/><path d="M489.64 634h10.0M489.64 702.8h10.0"/><rect x="484.64" y="651.4" width="20.0" height="21.7"/><path d="M484.64 661.4h20.0"/></g><circle cx="494.64" cy="712" r="1.2" fill="#FF69B4"/>
<g stroke="#3CB371" stroke-width="1.5" fill="none"><path d="M534.86 659.9V635.1" stroke-dasharray="10.8 7.2"/><path d="M534.86 700.3V676.8" stroke-dasharray="10.8 7.2"/><path d="M529.86 635.1h10.0M529.86 700.3h10.0"/><path d="M524.86 669.1h20.0"/><rect x="524.86" y="659.9" width="20.0" height="16.9" fill="#3CB371" fill-opacity="0.5" stroke="#1D5637" stroke-linejoin="round"/></g><circle cx="534.86" cy="627.6" r="1.2" fill="#3CB371"/>
<g stroke="#3CB371" stroke-width="1.5" fill="none"><path d="M561.67 640.6V629.2" stroke-dasharray="10.8 7.2"/><path d="M561.67 680V658.1" stroke-dasharray="10.8 7.2"/><path d="M556.67 629.2h10.0M556.67 680h10.0"/><rect x="551.67" y="640.6" width="20.0" height="17.5"/><path d="M551.67 649h20.0"/></g><circle cx="561.67" cy="689.8" r="1.2" fill="#3CB371"/>
<g stroke="#A52A2A" stroke-width="1.5" fill="none"><path d="M601.88 710.5V658.3" stroke-dasharray="10.8 7.2"/><path d="M601.88 789V749.1" stroke-dasharray="10.8 7.2"/><path d="M596.88 658.3h10.0M596.88 789h10.0"/><path d="M591.88 730.2h20.0"/><rect x="591.88" y="710.5" width="20.0" height="38.6" fill="#A52A2A" fill-opacity="0.5" stroke="#521515" stroke-linejoin="round"/></g>
<g stroke="#A52A2A" stroke-width="1.5" fill="none"><path d="M628.69 701.2V675.9" stroke-dasharray="10.8 7.2"/><path d="M628.69 790.6V736.8" stroke-dasharray="10.8 7.2"/><path d="M623.69 675.9h10.0M623.69 790.6h10.0"/><rect x="618.69" y="701.2" width="20.0" height="35.6"/><path d="M618.69 718.3h20.0"/></g>
<line x1="374.5" y1="658.7" x2="656" y2="658.7" stroke="#3a3a3a" stroke-width="0.85" stroke-dasharray="5.7 3.4"/>
<rect x="374.5" y="541.5" width="281.5" height="252.5" fill="none" stroke="#6a6a6a" stroke-width="1"/>
</g>
<text x="213.75" y="10.9" font-size="15.3" text-anchor="middle">PNW</text>
<text x="515.25" y="10.9" font-size="15.3" text-anchor="middle">M5</text>
<text transform="translate(10.25 140.33) rotate(-90)" font-size="14.3" text-anchor="middle" xml:space="preserve"><tspan font-family="'Liberation Serif', serif" font-weight="normal" font-style="italic" font-size="18" stroke-width="0.2">ξ</tspan>= 40 <tspan dx="1.2">%</tspan></text>
<text transform="translate(26.9 143.03) rotate(-90)" font-size="14.3" text-anchor="middle">BSS</text>
<text transform="translate(10.25 402.43) rotate(-90)" font-size="14.3" text-anchor="middle" xml:space="preserve"><tspan font-family="'Liberation Serif', serif" font-weight="normal" font-style="italic" font-size="18" stroke-width="0.2">ξ</tspan>= 60 <tspan dx="1.2">%</tspan></text>
<text transform="translate(26.9 405.13) rotate(-90)" font-size="14.3" text-anchor="middle">BSS</text>
<text transform="translate(10.25 665.53) rotate(-90)" font-size="14.3" text-anchor="middle" xml:space="preserve"><tspan font-family="'Liberation Serif', serif" font-weight="normal" font-style="italic" font-size="18" stroke-width="0.2">ξ</tspan>= 80 <tspan dx="1.2">%</tspan></text>
<text transform="translate(26.9 668.23) rotate(-90)" font-size="14.3" text-anchor="middle">BSS</text>
<text transform="translate(131.72 811.83) rotate(-25)" x="-3.95" font-size="14.5" text-anchor="end">StSS</text>
<text transform="translate(198.74 811.83) rotate(-25)" x="-3.95" font-size="14.5" text-anchor="end">MDSS</text>
<text transform="translate(265.77 811.83) rotate(-25)" x="0" font-size="14.5" text-anchor="end">MDSS+</text>
<text transform="translate(332.79 811.83) rotate(-25)" x="-11.85" font-size="14.5" text-anchor="end">GC</text>
<text transform="translate(433.22 811.83) rotate(-25)" x="-3.95" font-size="14.5" text-anchor="end">StSS</text>
<text transform="translate(500.24 811.83) rotate(-25)" x="-3.95" font-size="14.5" text-anchor="end">MDSS</text>
<text transform="translate(567.27 811.83) rotate(-25)" x="0" font-size="14.5" text-anchor="end">MDSS+</text>
<text transform="translate(634.29 811.83) rotate(-25)" x="-11.85" font-size="14.5" text-anchor="end">GC</text>
</svg>
</body></html>
